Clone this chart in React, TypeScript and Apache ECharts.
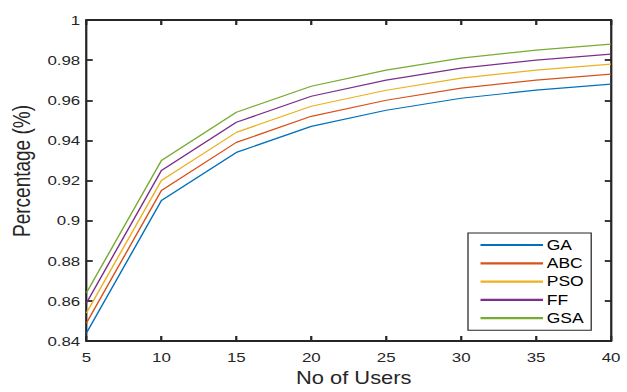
import React, { useEffect, useRef } from "react";
import * as echarts from "echarts";

const users = [5, 10, 15, 20, 25, 30, 35, 40];
const seriesNames = ["GA", "ABC", "PSO", "FF", "GSA"];
const GA = [0.844, 0.910, 0.934, 0.947, 0.955, 0.961, 0.965, 0.968];
const ABC = [0.849, 0.915, 0.939, 0.952, 0.960, 0.966, 0.970, 0.973];
const PSO = [0.854, 0.920, 0.944, 0.957, 0.965, 0.971, 0.975, 0.978];
const FF = [0.859, 0.925, 0.949, 0.962, 0.970, 0.976, 0.980, 0.983];
const GSA = [0.864, 0.930, 0.954, 0.967, 0.975, 0.981, 0.985, 0.988];
const colors = ["#0072BD", "#D95319", "#EDB120", "#7E2F8E", "#77AC30"];

const S = 1.25;
const W = 627 / S;
const H = 392;

export default function App() {
  const ref = useRef<HTMLDivElement>(null);
  useEffect(() => {
    if (!ref.current) return;
    const chart = echarts.init(ref.current, undefined, { renderer: "svg", width: W, height: H });
    const values = [GA, ABC, PSO, FF, GSA];
    const axisColor = "#262626";
    const font = "Liberation Sans";
    const lineW = 1.8;
    chart.setOption({
      animation: false,
      backgroundColor: "#ffffff",
      grid: { left: 66.4, right: 12.8, top: 20, bottom: 47, containLabel: false },
      legend: {
        orient: "vertical",
        left: 374.4,
        top: 233,
        padding: [5, 6, 5, 10],
        itemWidth: 50,
        itemHeight: 14,
        itemGap: 4.3,
        icon: "path://M0,0 H50 V2.2 H0 Z",
        backgroundColor: "#ffffff",
        borderColor: "#262626",
        borderWidth: 1,
        borderRadius: 0,
        textStyle: { fontFamily: font, fontSize: 14, color: "#000000", padding: [0, 0, 0, -2] },
        data: seriesNames,
      },
      xAxis: [
        {
          type: "value",
          min: 5,
          max: 40,
          interval: 5,
          position: "bottom",
          name: "No of Users",
          nameLocation: "middle",
          nameGap: 28,
          nameTextStyle: { fontFamily: font, fontSize: 17.5, color: axisColor, padding: [0, 0, 0, 8] },
          axisLine: { show: true, lineStyle: { color: axisColor, width: lineW } },
          axisTick: { show: true, inside: true, length: 5, lineStyle: { color: axisColor, width: lineW } },
          axisLabel: { fontFamily: font, fontSize: 13.5, color: axisColor, margin: 9 },
          splitLine: { show: false },
        },
        {
          type: "value",
          min: 5,
          max: 40,
          interval: 5,
          position: "top",
          axisLine: { show: true, lineStyle: { color: axisColor, width: lineW } },
          axisTick: { show: true, inside: true, length: 5, lineStyle: { color: axisColor, width: lineW } },
          axisLabel: { show: false },
          splitLine: { show: false },
        },
      ],
      yAxis: [
        {
          type: "value",
          min: 0.84,
          max: 1,
          interval: 0.02,
          position: "left",
          name: "Percentage (%)",
          nameLocation: "middle",
          nameRotate: 90,
          nameGap: 41,
          nameTextStyle: { fontFamily: font, fontSize: 19, color: axisColor, padding: [0, 0, 0, 19] },
          axisLine: { show: true, lineStyle: { color: axisColor, width: lineW } },
          axisTick: { show: true, inside: true, length: 5, lineStyle: { color: axisColor, width: lineW } },
          axisLabel: {
            fontFamily: font,
            fontSize: 13.5,
            color: axisColor,
            margin: 5,
            formatter: (v: number) => String(+v.toFixed(2)),
          },
          splitLine: { show: false },
        },
        {
          type: "value",
          min: 0.84,
          max: 1,
          interval: 0.02,
          position: "right",
          axisLine: { show: true, lineStyle: { color: axisColor, width: lineW } },
          axisTick: { show: true, inside: true, length: 5, lineStyle: { color: axisColor, width: lineW } },
          axisLabel: { show: false },
          splitLine: { show: false },
        },
      ],
      series: seriesNames.map((name, i) => ({
        name,
        type: "line",
        xAxisIndex: 0,
        yAxisIndex: 0,
        symbol: "none",
        showSymbol: false,
        color: colors[i],
        lineStyle: { color: colors[i], width: 1.2 },
        data: users.map((u, j) => [u, values[i][j]]),
      })),
    });
    return () => chart.dispose();
  }, []);
  return (
    <div style={{ position: "absolute", left: 0, top: 0, width: 627, height: 392, overflow: "hidden", background: "#fff" }}>
      <div
        ref={ref}
        style={{ width: W, height: H, transform: `scaleX(${S})`, transformOrigin: "0 0" }}
      />
    </div>
  );
}
